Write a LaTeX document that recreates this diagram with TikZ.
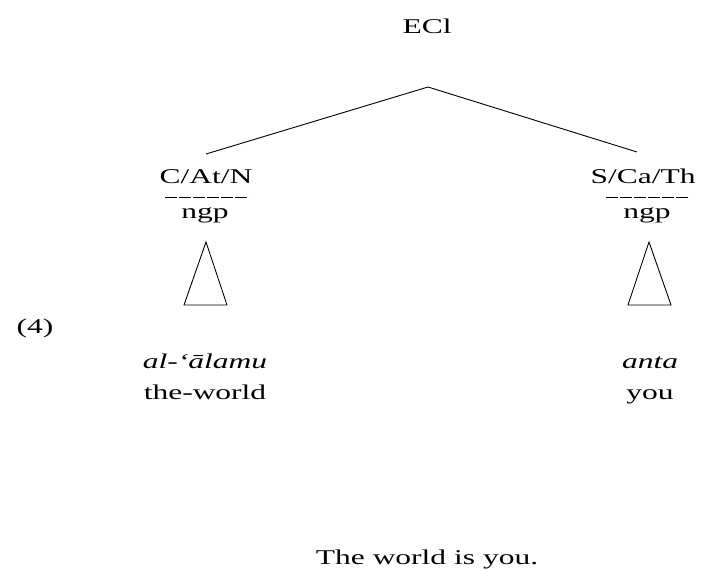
\documentclass[tikz,border=0pt]{standalone}
\usepackage{fontspec}
\setmainfont{Liberation Serif}[FakeStretch=1.5]
\begin{document}
\begin{tikzpicture}[x=1pt,y=-1pt,
  lbl/.style={inner sep=0pt,anchor=base,font=\fontsize{21pt}{25pt}\selectfont},
  branch/.style={line width=0.9pt},
  roof/.style={line width=0.9pt,line join=miter},
  featbar/.style={line width=0.8pt,dash pattern=on 11.5pt off 2.5pt}]
\useasboundingbox (0,0) rectangle (703,571);

% root
\node[lbl] (root) at (427,33) {ECl};
\coordinate (fork) at (428,87);
\coordinate (leftend) at (206,154);
\coordinate (rightend) at (637,152);
\draw[branch] (leftend) -- (fork) -- (rightend);

% left constituent
\node[lbl] (cat) at (206,183) {C/At/N};
\coordinate (catbarL) at (165,197);
\coordinate (catbarR) at (249,197);
\draw[featbar] (catbarL) -- (catbarR);
\node[lbl] (ngpl) at (205,218) {ngp};
\coordinate (trlA) at (206,242);
\coordinate (trlB) at (184,305);
\coordinate (trlC) at (227,305);
\draw[roof] (trlA) -- (trlB) -- (trlC) -- cycle;

% right constituent
\node[lbl] (scat) at (643,183) {S/Ca/Th};
\coordinate (scatbarL) at (606,197);
\coordinate (scatbarR) at (690,197);
\draw[featbar] (scatbarL) -- (scatbarR);
\node[lbl] (ngpr) at (647,218) {ngp};
\coordinate (trrA) at (649,242);
\coordinate (trrB) at (628,305);
\coordinate (trrC) at (671,305);
\draw[roof] (trrA) -- (trrB) -- (trrC) -- cycle;

% example number
\node[lbl] (exnum) at (35,333) {(4)};

% words and glosses
\node[lbl] (wordl) at (205,368) {\itshape al-‘ālamu};
\node[lbl] (glossl) at (205,399) {the-world};
\node[lbl] (wordr) at (650,368) {\itshape anta};
\node[lbl] (glossr) at (650,399) {you};

% free translation
\node[lbl] (trans) at (427,564) {The world is you.};
\end{tikzpicture}
\end{document}
